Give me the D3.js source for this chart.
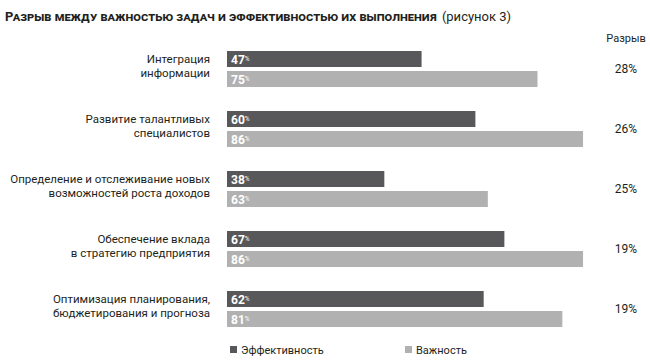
<!DOCTYPE html>
<html>
<head>
<meta charset="utf-8">
<script src="https://cdn.jsdelivr.net/npm/d3@7"></script>
<style>
  body { margin: 0; background: #fff; }
  text { font-family: Roboto, "Noto Sans", sans-serif; }
</style>
</head>
<body>
<div id="chart"></div>
<script>
// data
var categories = [
  ["Интеграция", "информации"],
  ["Развитие талантливых", "специалистов"],
  ["Определение и отслеживание новых", "возможностей роста доходов"],
  ["Обеспечение вклада", "в стратегию предприятия"],
  ["Оптимизация планирования,", "бюджетирования и прогноза"]
];
var effectiveness = [47, 60, 38, 67, 62];
var importance = [75, 86, 63, 86, 81];
var gapLabels = ["28%", "26%", "25%", "19%", "19%"];
var seriesNames = ["Эффективность", "Важность"];
var colors = ["#58585a", "#b1b1b1"];

var width = 650, height = 362;
var margin = {top: 49, left: 227};

var svg = d3.select("#chart")
    .append("svg")
    .attr("width", width)
    .attr("height", height);

// title: bold small caps part, font size fitted to about 432px wide
var titleMain = svg.append("text")
    .attr("x", 5)
    .attr("y", 21)
    .attr("font-family", "'DejaVu Sans', sans-serif")
    .attr("font-weight", "bold")
    .attr("font-size", "14px")
    .style("font-variant", "small-caps")
    .attr("fill", "#231f20")
    .text("Разрыв между важностью задач и эффективностью их выполнения");
var natural = titleMain.node().getComputedTextLength();
var fitted = Math.min(15, 14 * 432 / natural);
titleMain.attr("font-size", fitted + "px");
var titleEnd = 5 + titleMain.node().getComputedTextLength();

svg.append("text")
    .attr("x", titleEnd + 5)
    .attr("y", 21)
    .attr("font-size", "13px")
    .attr("fill", "#231f20")
    .text("(рисунок 3)");

// header of gap column
svg.append("text")
    .attr("x", 626)
    .attr("y", 42)
    .attr("text-anchor", "middle")
    .attr("font-size", "11px")
    .attr("fill", "#231f20")
    .text("Разрыв");

// scales
var xScale = d3.scaleLinear()
    .domain([0, 100])
    .range([margin.left, margin.left + 414]);

var yScale = d3.scaleBand()
    .domain(d3.range(categories.length))
    .range([margin.top, margin.top + 300])
    .paddingInner(0);

var barH = 16, barGap = 4;

var groups = svg.selectAll(".group")
    .data(categories)
    .enter()
    .append("g")
    .attr("class", "group")
    .attr("transform", function(d, i) { return "translate(0," + (yScale(i) + 2) + ")"; });

// category labels
groups.append("text")
    .attr("x", 210)
    .attr("y", 12)
    .attr("text-anchor", "end")
    .attr("font-size", "11.5px")
    .attr("fill", "#231f20")
    .selectAll("tspan")
    .data(function(d) { return d; })
    .enter()
    .append("tspan")
    .attr("x", 210)
    .attr("dy", function(d, i) { return i == 0 ? 0 : 14; })
    .text(function(d) { return d; });

// bars for both series
[effectiveness, importance].forEach(function(values, s) {
  groups.append("rect")
      .attr("x", xScale(0))
      .attr("y", s * (barH + barGap))
      .attr("width", function(d, i) { return xScale(values[i]) - xScale(0); })
      .attr("height", barH)
      .attr("fill", colors[s]);

  var lbl = groups.append("text")
      .attr("x", xScale(0) + 4)
      .attr("y", s * (barH + barGap) + 12.5)
      .attr("fill", "#fff")
      .attr("font-weight", "bold")
      .attr("font-size", "12px");
  lbl.append("tspan")
      .text(function(d, i) { return values[i]; });
  lbl.append("tspan")
      .attr("font-size", "6.5px")
      .attr("font-weight", "normal")
      .attr("dy", -3)
      .text("%");
});

// gap values
groups.append("text")
    .attr("x", 626)
    .attr("y", 22)
    .attr("text-anchor", "middle")
    .attr("font-size", "12px")
    .attr("fill", "#231f20")
    .text(function(d, i) { return gapLabels[i]; });

// legend
var legendX = [230, 405];
seriesNames.forEach(function(name, s) {
  svg.append("rect")
      .attr("x", legendX[s])
      .attr("y", 346)
      .attr("width", 7)
      .attr("height", 7)
      .attr("fill", colors[s]);
  svg.append("text")
      .attr("x", legendX[s] + 11)
      .attr("y", 354)
      .attr("font-size", "11px")
      .attr("fill", "#231f20")
      .text(name);
});
</script>
</body>
</html>
